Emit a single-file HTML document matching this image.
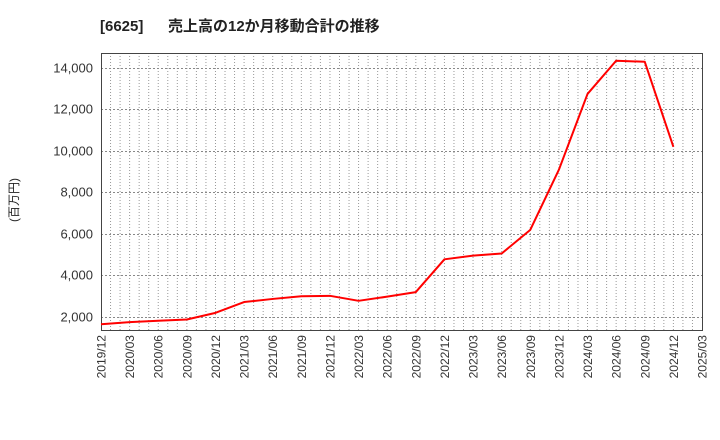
<!DOCTYPE html>
<html><head><meta charset="utf-8"><style>
body{margin:0;background:#fff;}
svg{display:block;font-family:"Liberation Sans","Noto Sans CJK JP",sans-serif;}
</style></head><body>
<svg id="chart" width="720" height="440">
<text x="100" y="31" font-size="15" font-weight="bold" fill="#222">[6625]</text>
<text x="168" y="31" font-size="15" font-weight="bold" fill="#222">売上高の12か月移動合計の推移</text>
<text transform="translate(18,200) rotate(-90)" text-anchor="middle" font-size="12" fill="#222">(百万円)</text>
<g id="grid"></g><g id="axes"></g><g id="series"></g>
</svg>
<script>
const categories=["2019/12","2020/03","2020/06","2020/09","2020/12","2021/03","2021/06","2021/09","2021/12","2022/03","2022/06","2022/09","2022/12","2023/03","2023/06","2023/09","2023/12","2024/03","2024/06","2024/09","2024/12"];
const xTickLabels=["2019/12","2020/03","2020/06","2020/09","2020/12","2021/03","2021/06","2021/09","2021/12","2022/03","2022/06","2022/09","2022/12","2023/03","2023/06","2023/09","2023/12","2024/03","2024/06","2024/09","2024/12","2025/03"];
const revenue=[1650,1750,1820,1880,2200,2720,2870,3000,3020,2780,2980,3200,4780,4960,5060,6200,9100,12750,14350,14300,10200];
const yTicks=[2000,4000,6000,8000,10000,12000,14000];
const NS="http://www.w3.org/2000/svg";
const L=101,R=702,T=53,B=330;
const yMin=1373,yMax=14723;
const nMonths=(xTickLabels.length-1)*3;
function xs(i){return L+(R-L)*i/(xTickLabels.length-1);}
function xm(m){return L+(R-L)*m/nMonths;}
function ys(v){return B-(v-yMin)/(yMax-yMin)*(B-T);}
function mk(tag,attrs,parent){const e=document.createElementNS(NS,tag);for(const k in attrs)e.setAttribute(k,attrs[k]);parent.appendChild(e);return e;}
const grid=document.getElementById('grid'),axes=document.getElementById('axes'),series=document.getElementById('series');
for(let m=1;m<nMonths;m++){
 const l=mk('line',{x1:xm(m),x2:xm(m),y1:T,y2:B,stroke:'#999','stroke-width':1,'stroke-dasharray':'1,2'},grid);
 
 
}
yTicks.forEach(v=>{
 const y=Math.round(ys(v))+0.5;
 const l=mk('line',{x1:L,x2:R,y1:y,y2:y,stroke:'#888','stroke-width':1,'stroke-dasharray':'2,2'},grid);
 
 
 const t=mk('text',{x:L-8,y:y+4,'text-anchor':'end','font-size':13,fill:'#333'},axes);
 t.textContent=v.toLocaleString('en-US');
 
 
});
xTickLabels.forEach((c,i)=>{
 const x=xs(i);
 const t=mk('text',{transform:`translate(${x+4.5},${B+5}) rotate(-90)`,'text-anchor':'end','font-size':12,fill:'#333'},axes);
 t.textContent=c;
 
 
});
const frame=mk('rect',{x:L+0.5,y:T+0.5,width:R-L,height:B-T,fill:'none',stroke:'#444','stroke-width':1},axes);


const pts=revenue.map((v,i)=>xs(i)+','+ys(v)).join(' ');
const line=mk('polyline',{points:pts,fill:'none',stroke:'#ff0000','stroke-width':2,'stroke-linejoin':'round'},series);


</script>
</body></html>
